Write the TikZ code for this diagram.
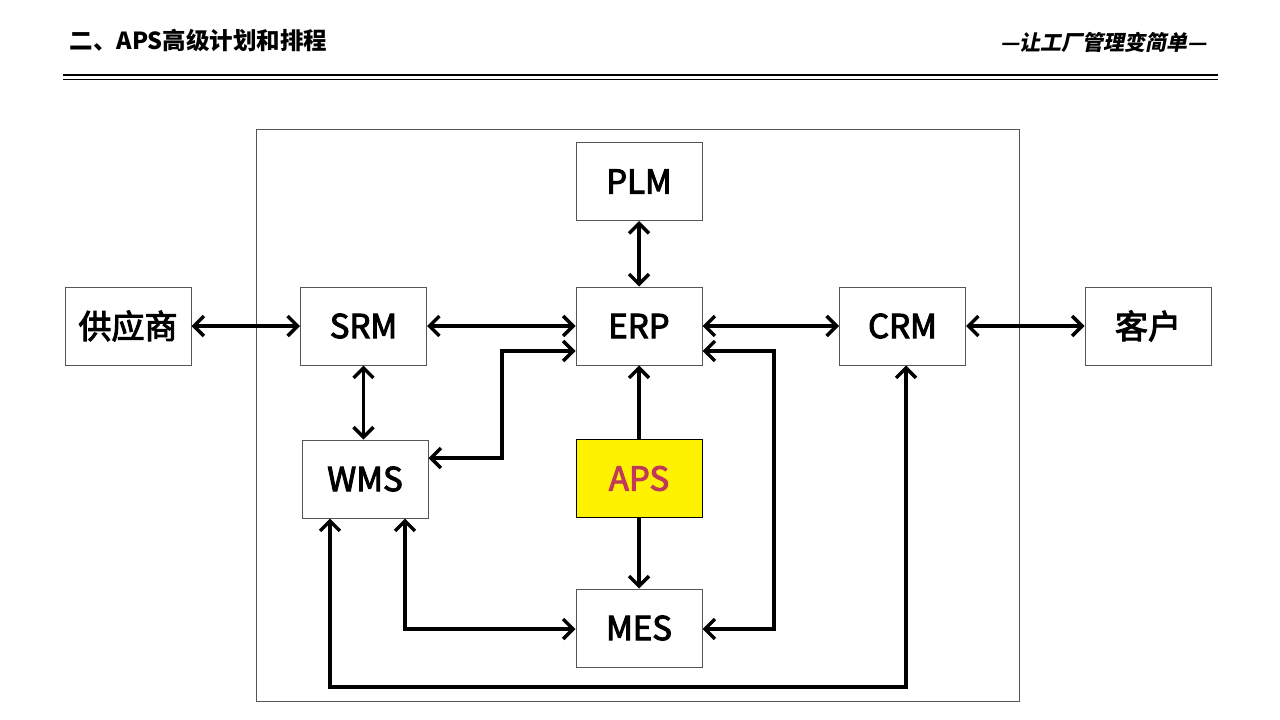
\documentclass[tikz,border=0pt]{standalone}
\usepackage{fontspec}
\setmainfont{Noto Sans CJK SC}
\newfontfamily\cjkit[FakeSlant=0.2]{Noto Sans CJK SC}
\newfontfamily\boxfont[FakeBold=3]{Noto Sans CJK SC}
\usetikzlibrary{arrows.meta}
\definecolor{apsred}{HTML}{C0395A}
\definecolor{boxgray}{HTML}{555555}
\tikzset{
  box/.style={draw=boxgray, line width=1pt, fill=white, minimum width=126pt, minimum height=78pt, inner sep=0pt, font=\boxfont\fontsize{33}{33}\selectfont},
  arr/.style={line width=3.5pt, -{Straight Barb[length=10pt,width=20pt,line width=3.5pt]}},
  dbl/.style={line width=3.5pt, {Straight Barb[length=10pt,width=20pt,line width=3.5pt]}-{Straight Barb[length=10pt,width=20pt,line width=3.5pt]}},
}
\begin{document}
\begin{tikzpicture}[x=1pt,y=-1pt]
\useasboundingbox (0,0) rectangle (1280,720);
\fill[white] (0,0) rectangle (1280,720);
% header
\node[anchor=west, font=\bfseries\fontsize{23.5}{23.5}\selectfont] (title) at (66,40) {二、APS高级计划和排程};
\node[anchor=east, font=\cjkit\bfseries\fontsize{21}{21}\selectfont] (slogan) at (1210,42) {—让工厂管理变简单—};
\draw[line width=2.5pt] (63,75) -- (1218,75);
\draw[line width=1.2pt] (63,79.5) -- (1218,79.5);
% frame
\draw[boxgray, line width=1pt] (256,129) rectangle (1019,701);
% nodes
\node[box] (PLM) at (639,181.5) {PLM};
\node[box] (SUP) at (128,326) {供应商};
\node[box] (SRM) at (363.5,326) {SRM};
\node[box] (ERP) at (639,326) {ERP};
\node[box] (CRM) at (902.5,326) {CRM};
\node[box] (CUS) at (1148,326) {客户};
\node[box] (WMS) at (365,479) {WMS};
\node[box, fill=yellow, draw=black, text=apsred] (APS) at (639,478.5) {APS};
\node[box] (MES) at (639,628) {MES};
% horizontal connectors
\draw[dbl] (SUP.east) -- (SRM.west);
\draw[dbl] (SRM.east) -- (ERP.west);
\draw[dbl] (ERP.east) -- (CRM.west);
\draw[dbl] (CRM.east) -- (CUS.west);
% vertical
\draw[dbl] (PLM.south) -- (ERP.north);
\draw[dbl] (SRM.south) -- (SRM.south |- WMS.north);
\draw[arr] (APS.north) -- (ERP.south);
\draw[arr] (APS.south) -- (MES.north);
% elbows
\coordinate (c1) at (502,458);
\coordinate (c2) at (502,351);
\draw[dbl] (WMS.east |- c1) -- (c1) -- (c2) -- (ERP.west |- c2);
\coordinate (c3) at (774,351);
\coordinate (c4) at (774,629);
\draw[dbl] (ERP.east |- c3) -- (c3) -- (c4) -- (MES.east |- c4);
\coordinate (c5) at (405,629);
\draw[dbl] (WMS.south -| c5) -- (c5) -- (MES.west |- c5);
\coordinate (c6) at (330,687);
\coordinate (c7) at (906,687);
\draw[dbl] (WMS.south -| c6) -- (c6) -- (c7) -- (CRM.south -| c7);
\draw[line width=4.5pt] (c6) -- (c7);
\end{tikzpicture}
\end{document}
